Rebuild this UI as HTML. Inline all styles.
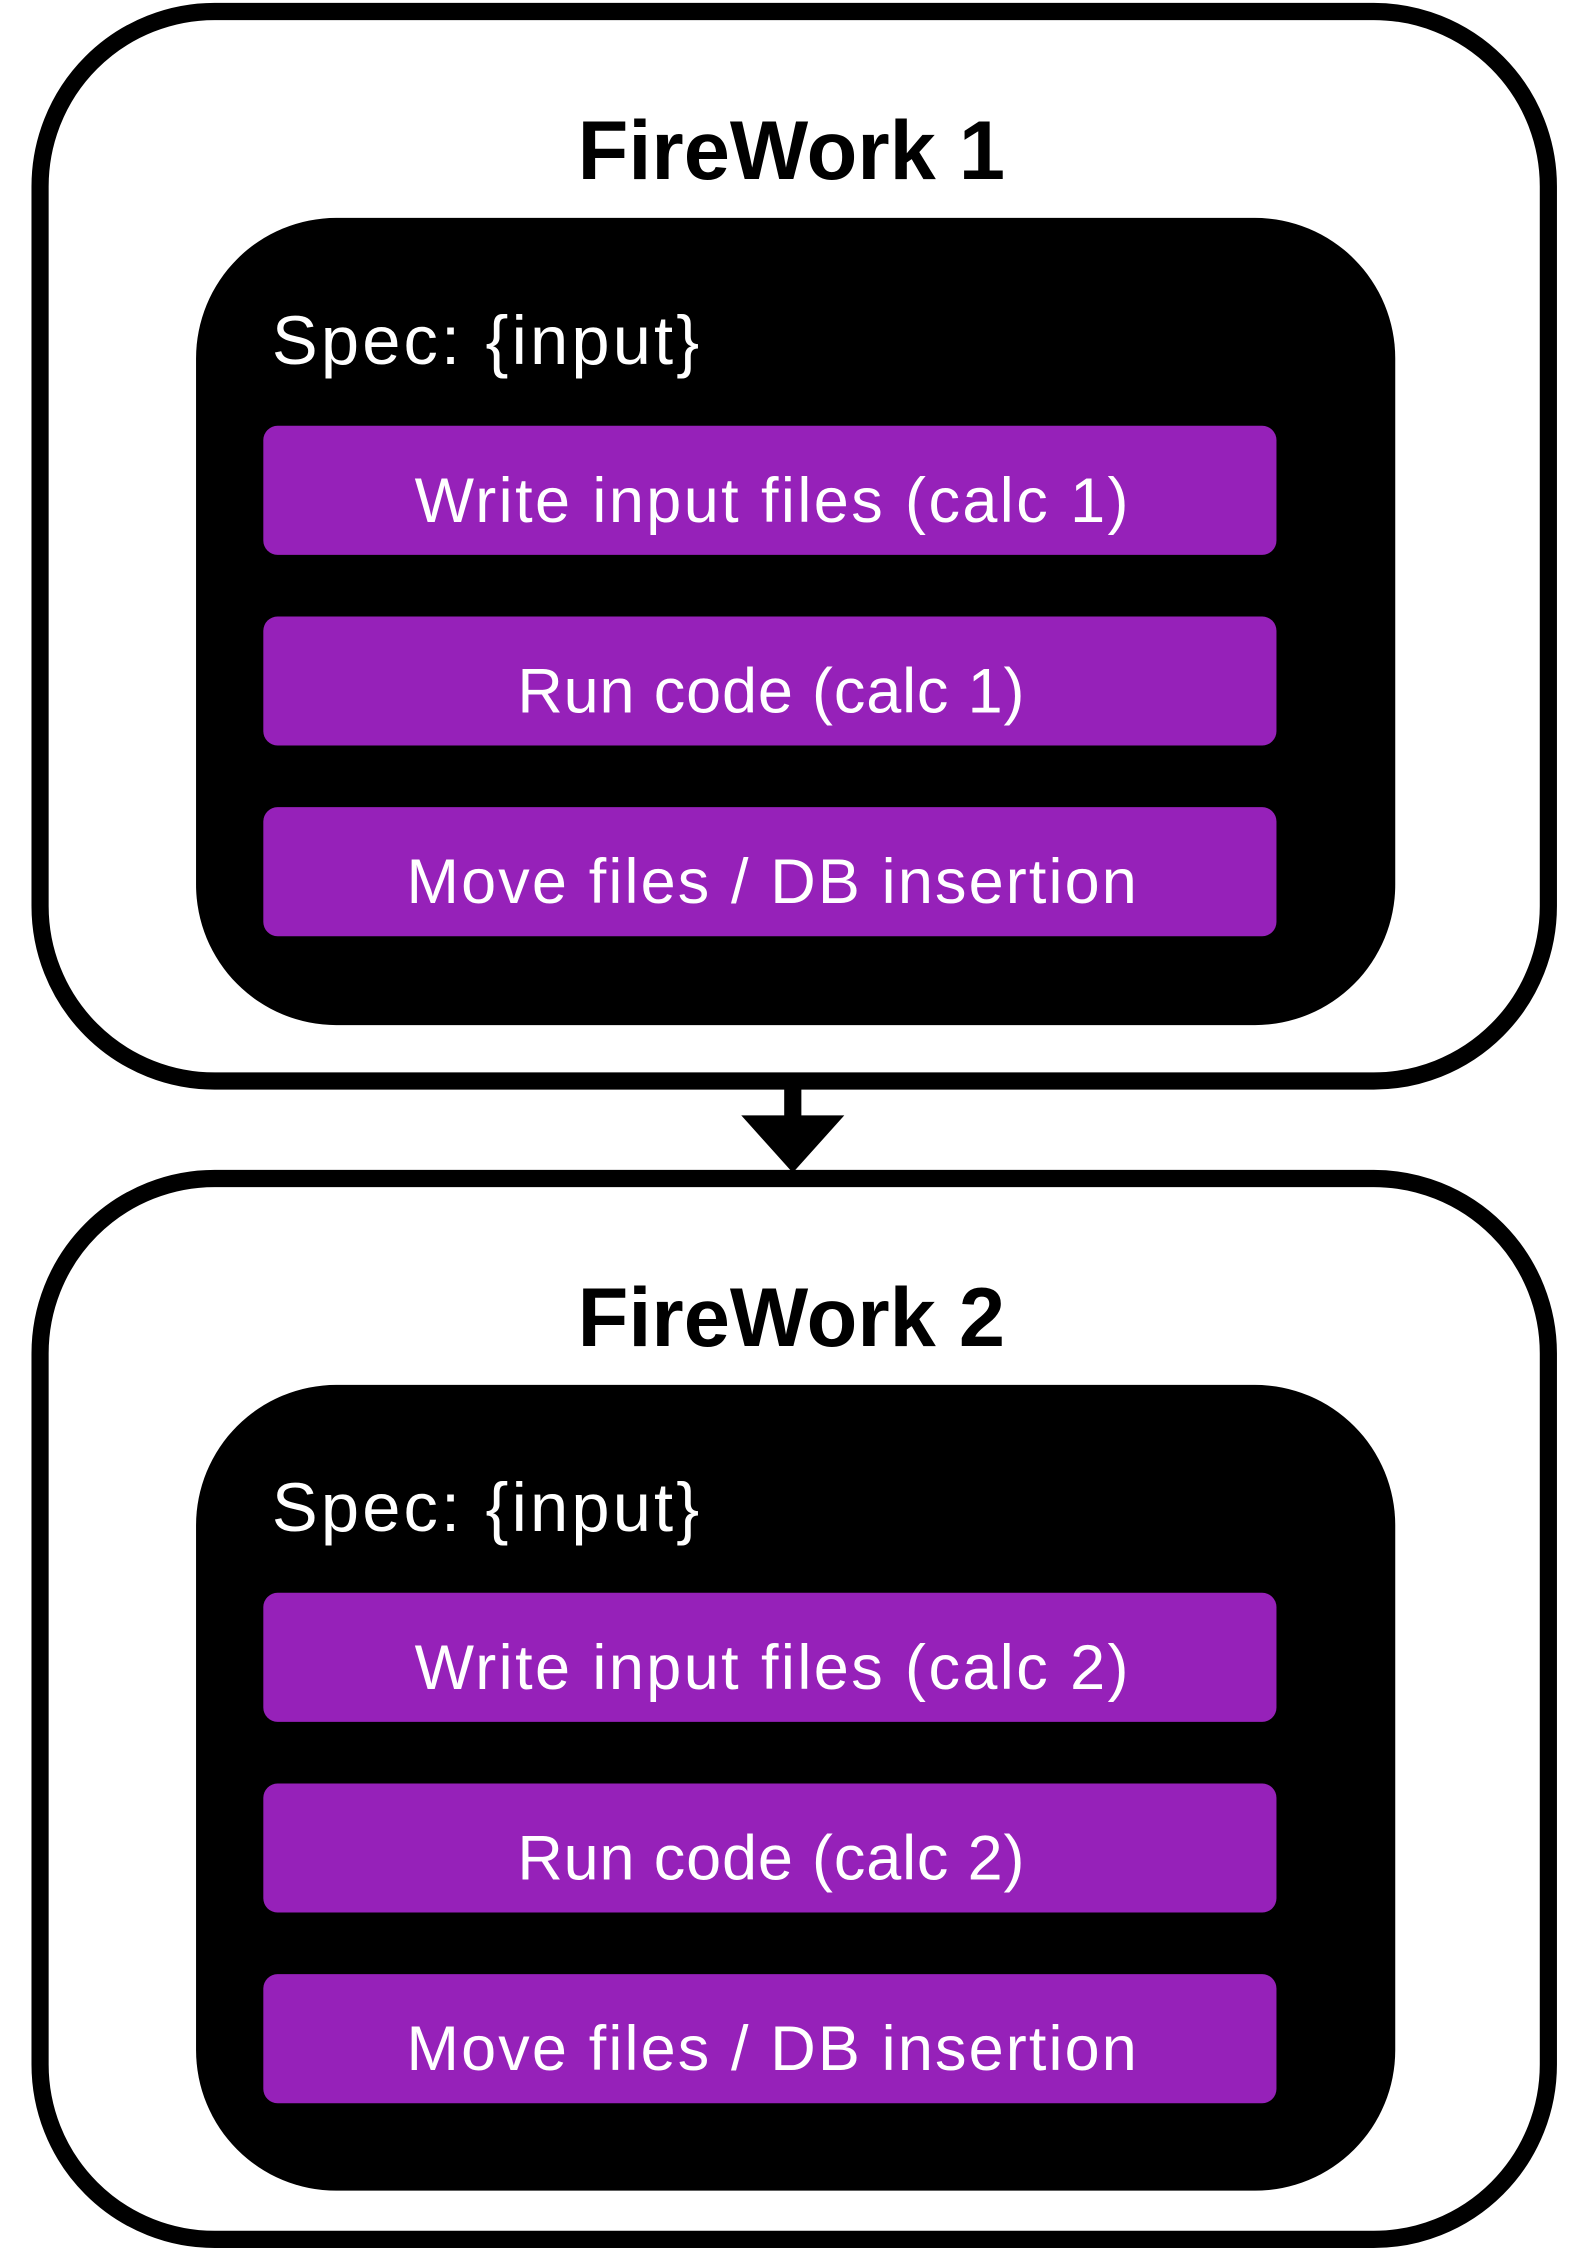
<!DOCTYPE html>
<html><head><meta charset="utf-8"><style>
html,body{margin:0;padding:0;background:#fff;}
svg{display:block;}
</style></head><body>
<svg width="1587" height="2248" viewBox="0 0 1109 1568" preserveAspectRatio="none" xmlns="http://www.w3.org/2000/svg" font-family="'Liberation Sans', sans-serif">
<rect x="28" y="8" width="1054" height="746" rx="122" fill="#fff" stroke="#000" stroke-width="12"/>
<rect x="137" y="152" width="838" height="563" rx="98" fill="#000"/>
<text x="553" y="125" text-anchor="middle" font-size="58" font-weight="bold" fill="#000">FireWork 1</text>
<text x="190" y="254" font-size="48" fill="#fff" letter-spacing="2.2">Spec: {input}</text>
<rect x="184" y="297" width="708" height="90" rx="10" fill="#9621b9"/>
<rect x="184" y="430" width="708" height="90" rx="10" fill="#9621b9"/>
<rect x="184" y="563" width="708" height="90" rx="10" fill="#9621b9"/>
<text x="540" y="364" text-anchor="middle" font-size="44" fill="#fff" letter-spacing="1.7">Write input files (calc 1)</text>
<text x="539" y="497" text-anchor="middle" font-size="44" fill="#fff" letter-spacing="0.6">Run code (calc 1)</text>
<text x="540" y="630" text-anchor="middle" font-size="44" fill="#fff" letter-spacing="1.5">Move files / DB insertion</text>

<rect x="548" y="758" width="12" height="22" fill="#000"/>
<polygon points="518,778 590,778 554,818" fill="#000"/>

<rect x="28" y="822" width="1054" height="740" rx="122" fill="#fff" stroke="#000" stroke-width="12"/>
<rect x="137" y="966" width="838" height="562" rx="98" fill="#000"/>
<text x="553" y="939" text-anchor="middle" font-size="58" font-weight="bold" fill="#000">FireWork 2</text>
<text x="190" y="1068" font-size="48" fill="#fff" letter-spacing="2.2">Spec: {input}</text>
<rect x="184" y="1111" width="708" height="90" rx="10" fill="#9621b9"/>
<rect x="184" y="1244" width="708" height="90" rx="10" fill="#9621b9"/>
<rect x="184" y="1377" width="708" height="90" rx="10" fill="#9621b9"/>
<text x="540" y="1178" text-anchor="middle" font-size="44" fill="#fff" letter-spacing="1.7">Write input files (calc 2)</text>
<text x="539" y="1311" text-anchor="middle" font-size="44" fill="#fff" letter-spacing="0.6">Run code (calc 2)</text>
<text x="540" y="1444" text-anchor="middle" font-size="44" fill="#fff" letter-spacing="1.5">Move files / DB insertion</text>
</svg>
</body></html>
